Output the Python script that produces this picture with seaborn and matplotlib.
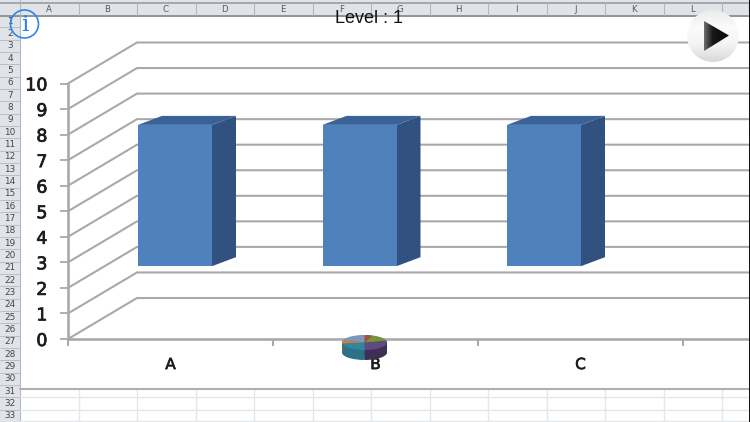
import numpy as np
import pandas as pd
import matplotlib
matplotlib.use("Agg")
import matplotlib.pyplot as plt
import matplotlib.patheffects as pe
from matplotlib.patches import Circle, Polygon, Rectangle
from matplotlib.colors import LinearSegmentedColormap
import seaborn as sns

# chart values
categories = ["A", "B", "C"]
bar_bases = [2.85, 2.85, 2.85]
bar_tops = [8.38, 8.38, 8.38]
value_ticks = list(range(11))

# the small pie sitting on the axis
pie_shares = [105, 55, 20, 75, 25, 80]
pie_top_colors = ["#5f4a80", "#77933c", "#a5503c", "#7f97bd", "#c9803a", "#31859c"]
pie_side_colors = ["#3d2f55", "#4d6027", "#6b3427", "#52627b", "#9a5f28", "#2a7288"]

# spreadsheet behind the chart
column_names = list("ABCDEFGHIJKLM")
row_numbers = list(range(1, 34))

W, H = 750, 422
GRID = "#a9a9a9"
HEADER = "#e0e3e8"
HEADER_LINE = "#b4b8be"
CELL_LINE = "#e4e6ea"
TEXT = "#1c1c1c"


def px_axes(fig, left, top, right, bottom, **kw):
    """Axes placed by pixel box, y counted from the top like the screenshot."""
    return fig.add_axes([left / W, 1 - bottom / H, (right - left) / W, (bottom - top) / H], **kw)


sns.set_style("white")
fig = plt.figure(figsize=(W / 100, H / 100), dpi=100, facecolor="white")

# 1. spreadsheet background
bg = px_axes(fig, 0, 0, W, H, zorder=0)
bg.set_xlim(0, W)
bg.set_ylim(H, 0)
bg.set_axis_off()

col_w = 58.5
row_h = 12.34
bg.add_patch(Rectangle((0, 0), W, 16, fc=HEADER, ec="none"))
bg.add_patch(Rectangle((0, 0), 20, H, fc=HEADER, ec="none"))
bg.plot([0, W], [2.5, 2.5], color="#9a9ea4", lw=1.2)
bg.plot([0, W], [15.5, 15.5], color="#8f9298", lw=1.4)
bg.plot([19.5, 19.5], [0, H], color=HEADER_LINE, lw=0.8)
for i, name in enumerate(column_names):
    x0 = 20 + i * col_w
    bg.plot([x0 + col_w] * 2, [3, 15], color=HEADER_LINE, lw=0.8)
    bg.text(x0 + col_w / 2 - 0.5, 9.5, name, ha="center", va="center", fontsize=6.2, color="#55585e")
    if i > 0:
        bg.plot([x0, x0], [389, H], color=CELL_LINE, lw=1)
for n in row_numbers:
    yc = 21 + (n - 1) * row_h
    bg.plot([0, 20], [yc + row_h / 2] * 2, color=HEADER_LINE, lw=0.6)
    bg.text(10, yc, str(n), ha="center", va="center", fontsize=6.4, color="#44474c")
bg.plot([20, W], [397, 397], color=CELL_LINE, lw=1)
bg.plot([20, W], [409.5, 409.5], color=CELL_LINE, lw=1)
bg.plot([20, W], [421, 421], color=CELL_LINE, lw=1)
bg.plot([20, W], [389, 389], color="#b0b0b0", lw=1.5)

# 2. value axis and walls
x_step = 205.0
ax = px_axes(fig, 68, 83.5, W, 339, zorder=1)
ax.patch.set_alpha(0)
ax.set_xlim(-0.5, -0.5 + (W - 68) / x_step)
ax.set_ylim(0, 10)
y_step = (339 - 83.5) / 10
back_dx = 69 / x_step
back_dy = 41 / y_step
x_left, x_right = ax.get_xlim()
for v in value_ticks:
    ax.plot([x_left, x_left + back_dx, x_right], [v, v + back_dy, v + back_dy],
            color=GRID, lw=1.5, clip_on=False, zorder=1, solid_joinstyle="miter")

sns.despine(ax=ax, top=True, right=True)
for side in ("left", "bottom"):
    ax.spines[side].set_color(GRID)
    ax.spines[side].set_linewidth(1.9)
heavy = [pe.withStroke(linewidth=0.5, foreground=TEXT)]
ax.set_yticks(value_ticks)
ax.set_yticklabels([str(v) for v in value_ticks], fontsize=12.6, color=TEXT, path_effects=heavy)
ax.tick_params(axis="y", left=True, length=5.8, width=1.3, color=GRID, pad=9)
ax.set_xticks([-0.5, 0.5, 1.5, 2.5])
ax.set_xticklabels([])
ax.tick_params(axis="x", which="major", bottom=True, length=5.2, width=1.5, color=GRID)
ax.set_xticks(range(len(categories)), minor=True)
ax.set_xticklabels(categories, minor=True, fontsize=11, color=TEXT, path_effects=heavy)
ax.tick_params(axis="x", which="minor", bottom=False, length=0, pad=13)

# 3. bars, on their own axes since the wall spacing is narrower than the floor spacing
bar_step = 184.5
ax_bars = px_axes(fig, 68, 83.5, W, 339, zorder=2)
ax_bars.patch.set_alpha(0)
df = pd.DataFrame({"category": categories,
                   "height": np.array(bar_tops) - np.array(bar_bases)})
sns.barplot(data=df, x="category", y="height", order=categories, ax=ax_bars,
            color="#4f81bd", saturation=1, width=74 / bar_step,
            bottom=bar_bases, linewidth=0, zorder=3)
ax_bars.set_xlim((68 - 175) / bar_step, (W - 175) / bar_step)
ax_bars.set_ylim(0, 10)
ax_bars.set_axis_off()

depth_x = 24 / bar_step
depth_y = 9 / y_step
for p in list(ax_bars.patches):
    x0, x1 = p.get_x(), p.get_x() + p.get_width()
    y0, y1 = p.get_y(), p.get_y() + p.get_height()
    ax_bars.add_patch(Polygon([(x1, y0), (x1 + depth_x, y0 + depth_y), (x1 + depth_x, y1 + depth_y), (x1, y1)],
                              fc="#315280", ec="none", zorder=2))
    ax_bars.add_patch(Polygon([(x0, y1), (x1, y1), (x1 + depth_x, y1 + depth_y), (x0 + depth_x, y1 + depth_y)],
                              fc="#3a6297", ec="none", zorder=2))

# 4. small pie on top of the B label
pie_depth = 10 / 7.5
no_edge = {"linewidth": 0, "edgecolor": "none"}
ax_pie = px_axes(fig, 342, 335, 387, 360, zorder=4)
for d in np.linspace(pie_depth, 0.05, 12):
    ax_pie.pie(pie_shares, colors=pie_side_colors, startangle=-90, center=(0, -d), radius=1,
               frame=False, wedgeprops=no_edge)
ax_pie.pie(pie_shares, colors=pie_top_colors, startangle=-90, center=(0, 0), radius=1,
           frame=False, wedgeprops=no_edge)
ax_pie.set_aspect("auto")
ax_pie.set_xlim(-1, 1)
ax_pie.set_ylim(-1 - pie_depth, 1)
ax_pie.set_axis_off()

# 5. app overlay: info icon, level title, play button
top = px_axes(fig, 0, 0, W, H, zorder=5)
top.patch.set_alpha(0)
top.set_axis_off()

top.text(369, 18.5, "Level : 1", ha="center", va="center", fontsize=13,
         family="Liberation Sans", color="#111111")

top.add_patch(Circle((24.5, 24), 14, fc="none", ec="#2f86e6", lw=1.2))
top.text(24.5, 25, "i", ha="center", va="center", fontsize=16.5, family="DejaVu Serif",
         color="#2a7fe0")

button = LinearSegmentedColormap.from_list("button", ["#ececec", "#fbfbfb", "#f4f4f4", "#d8d8d8"])
grad = np.linspace(0, 1, 64).reshape(-1, 1)
im = top.imshow(grad, cmap=button, extent=(687, 739, 62, 10), aspect="auto", zorder=2)
im.set_clip_path(Circle((713, 36), 26, transform=top.transData))
arrow = LinearSegmentedColormap.from_list("arrow", ["#6e6e6e", "#1a1a1a", "#0e0e0e", "#0e0e0e"])
im2 = top.imshow(np.linspace(0, 1, 64).reshape(1, -1), cmap=arrow, extent=(704, 729, 51, 21),
                 aspect="auto", zorder=3)
im2.set_clip_path(Polygon([(704, 21), (729, 35.5), (704, 51)], closed=True, transform=top.transData))
top.add_patch(Rectangle((749, 0), 1, H, fc="#111111", ec="none", zorder=4))
top.set_xlim(0, W)
top.set_ylim(H, 0)

fig.savefig("out.png", dpi=100)
